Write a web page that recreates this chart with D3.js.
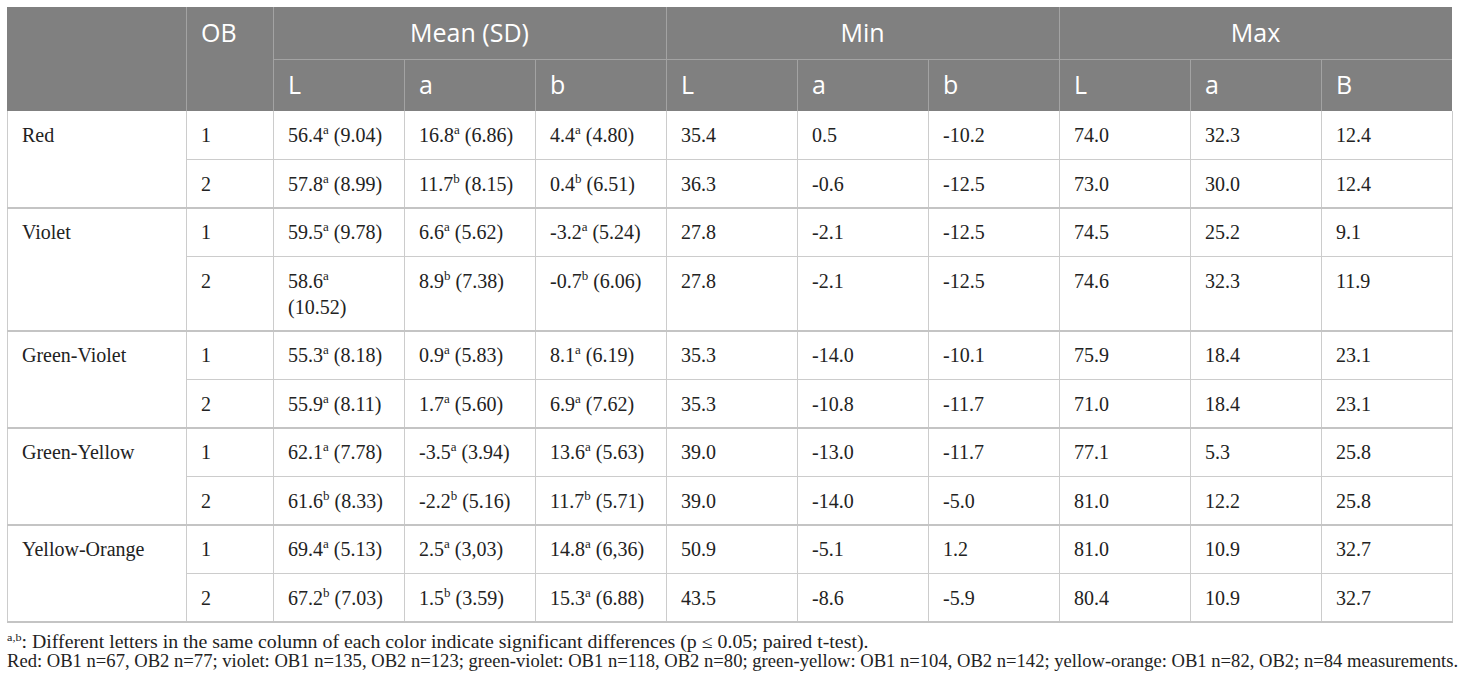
<!DOCTYPE html>
<html>
<head>
<meta charset="utf-8">
<script src="https://cdn.jsdelivr.net/npm/d3@7"></script>
<style>
  body { margin: 0; background: #fff; }
  svg { display: block; }
</style>
</head>
<body>
<svg width="1460" height="683"></svg>
<script>
// data of the table
const colorNames = ["Red", "Violet", "Green-Violet", "Green-Yellow", "Yellow-Orange"];
const obValues = ["1", "2"];
const headerGroups = ["Mean (SD)", "Min", "Max"];
const subHeaders = ["L", "a", "b", "L", "a", "b", "L", "a", "B"];

const meanL    = ["56.4", "57.8", "59.5", "58.6", "55.3", "55.9", "62.1", "61.6", "69.4", "67.2"];
const meanLSig = ["a", "a", "a", "a", "a", "a", "a", "b", "a", "b"];
const meanLSd  = ["9.04", "8.99", "9.78", "10.52", "8.18", "8.11", "7.78", "8.33", "5.13", "7.03"];

const meanA    = ["16.8", "11.7", "6.6", "8.9", "0.9", "1.7", "-3.5", "-2.2", "2.5", "1.5"];
const meanASig = ["a", "b", "a", "b", "a", "a", "a", "b", "a", "b"];
const meanASd  = ["6.86", "8.15", "5.62", "7.38", "5.83", "5.60", "3.94", "5.16", "3,03", "3.59"];

const meanB    = ["4.4", "0.4", "-3.2", "-0.7", "8.1", "6.9", "13.6", "11.7", "14.8", "15.3"];
const meanBSig = ["a", "b", "a", "b", "a", "a", "a", "b", "a", "a"];
const meanBSd  = ["4.80", "6.51", "5.24", "6.06", "6.19", "7.62", "5.63", "5.71", "6,36", "6.88"];

const minL = ["35.4", "36.3", "27.8", "27.8", "35.3", "35.3", "39.0", "39.0", "50.9", "43.5"];
const minA = ["0.5", "-0.6", "-2.1", "-2.1", "-14.0", "-10.8", "-13.0", "-14.0", "-5.1", "-8.6"];
const minB = ["-10.2", "-12.5", "-12.5", "-12.5", "-10.1", "-11.7", "-11.7", "-5.0", "1.2", "-5.9"];

const maxL = ["74.0", "73.0", "74.5", "74.6", "75.9", "71.0", "77.1", "81.0", "81.0", "80.4"];
const maxA = ["32.3", "30.0", "25.2", "32.3", "18.4", "18.4", "5.3", "12.2", "10.9", "10.9"];
const maxB = ["12.4", "12.4", "9.1", "11.9", "23.1", "23.1", "25.8", "25.8", "32.7", "32.7"];

const footSup = "a,b";
const footLine1 = ": Different letters in the same column of each color indicate significant differences (p \u2264 0.05; paired t-test).";
const footLine2 = "Red: OB1 n=67, OB2 n=77; violet: OB1 n=135, OB2 n=123; green-violet: OB1 n=118, OB2 n=80; green-yellow: OB1 n=104, OB2 n=142; yellow-orange: OB1 n=82, OB2; n=84 measurements.";

const valueCols = [
    {v: meanL, s: meanLSig, sd: meanLSd},
    {v: meanA, s: meanASig, sd: meanASd},
    {v: meanB, s: meanBSig, sd: meanBSd},
    {v: minL}, {v: minA}, {v: minB},
    {v: maxL}, {v: maxA}, {v: maxB}
];

const attr = {
    x0: 7, x1: 1452, y0: 7,
    colorW: 179, obW: 87,
    headH: 52, pad: 15,
    lineH: 26, rowBase: 22.5,
    foot1End: 869, foot2End: 1459,
    headBg: "#808080", headLine: "#a3a3a3", bodyLine: "#cccccc", groupLine: "#c4c4c4",
    serif: "'Liberation Serif', 'DejaVu Serif', serif",
    sans: "'Open Sans', 'Noto Sans', sans-serif"
};

function drawTable() {
    const svg = d3.select("svg");
    svg.selectAll('*').remove();

    const xOb = attr.x0 + attr.colorW;
    const xVal = xOb + attr.obW;
    const scX = d3.scaleBand().domain(d3.range(valueCols.length)).range([xVal, attr.x1]);
    const groupX = d3.scaleBand().domain(headerGroups).range([xVal, attr.x1]);

    const nRows = colorNames.length * obValues.length;

    // measure the mean cells to see whether they need two lines
    const probe = svg.append("g").attr("font-family", attr.serif).attr("font-size", 20);
    const wraps = [];
    for (let i = 0; i < nRows; i++) {
        wraps.push(valueCols.map((c, j) => {
            if (!c.s) return false;
            const t = writeCell(probe, 0, 0, c, i, false);
            const w = t.node().getComputedTextLength();
            return w > scX.bandwidth() - 2 * attr.pad;
        }));
    }
    probe.remove();

    const lines = wraps.map(r => r.some(d => d) ? 2 : 1);
    const rowTop = [];
    let y = attr.y0 + 2 * attr.headH;
    lines.forEach(n => { rowTop.push(y); y += attr.rowBase + attr.lineH * n; });
    const yEnd = y;

    // header block
    svg.append("rect")
        .attr("x", attr.x0).attr("y", attr.y0)
        .attr("width", attr.x1 - attr.x0).attr("height", 2 * attr.headH)
        .attr("fill", attr.headBg);

    const hl = svg.append("g").attr("stroke", attr.headLine).attr("stroke-width", 1);
    [xOb, xVal].concat(headerGroups.map(g => groupX(g))).forEach(x => {
        hl.append("line").attr("x1", x + 0.5).attr("x2", x + 0.5)
            .attr("y1", attr.y0).attr("y2", attr.y0 + 2 * attr.headH);
    });
    d3.range(valueCols.length).forEach(j => {
        if (j % 3 === 0) return;
        hl.append("line").attr("x1", scX(j) + 0.5).attr("x2", scX(j) + 0.5)
            .attr("y1", attr.y0 + attr.headH).attr("y2", attr.y0 + 2 * attr.headH);
    });
    hl.append("line").attr("x1", xVal).attr("x2", attr.x1)
        .attr("y1", attr.y0 + attr.headH + 0.5).attr("y2", attr.y0 + attr.headH + 0.5);

    const ht = svg.append("g").attr("font-family", attr.sans).attr("font-size", 25).attr("fill", "#fff");
    ht.append("text").attr("x", xOb + attr.pad).attr("y", attr.y0 + 35).text("OB");
    ht.selectAll(".grp").data(headerGroups).enter().append("text")
        .attr("x", d => groupX(d) + groupX.bandwidth() / 2)
        .attr("y", attr.y0 + 35)
        .attr("text-anchor", "middle")
        .text(d => d);
    ht.selectAll(".sub").data(subHeaders).enter().append("text")
        .attr("x", (d, j) => scX(j) + attr.pad)
        .attr("y", attr.y0 + attr.headH + 35)
        .text(d => d);

    // body lines
    const bl = svg.append("g").attr("stroke", attr.bodyLine).attr("stroke-width", 1);
    [attr.x0, xOb, xVal].concat(d3.range(1, valueCols.length).map(j => scX(j)), [attr.x1]).forEach(x => {
        bl.append("line").attr("x1", x + 0.5).attr("x2", x + 0.5)
            .attr("y1", attr.y0 + 2 * attr.headH).attr("y2", yEnd);
    });
    for (let i = 1; i < nRows; i++) {
        const group = i % obValues.length === 0;
        bl.append("line")
            .attr("x1", group ? attr.x0 : xOb).attr("x2", attr.x1 + 1)
            .attr("y1", rowTop[i]).attr("y2", rowTop[i])
            .attr("stroke", group ? attr.groupLine : attr.bodyLine)
            .attr("stroke-width", group ? 2 : 1);
    }
    bl.append("line").attr("x1", attr.x0).attr("x2", attr.x1 + 1)
        .attr("y1", yEnd).attr("y2", yEnd)
        .attr("stroke", attr.groupLine).attr("stroke-width", 2);

    // body text
    const bt = svg.append("g").attr("font-family", attr.serif).attr("font-size", 20).attr("fill", "#222");
    colorNames.forEach((name, k) => {
        bt.append("text").attr("x", attr.x0 + attr.pad)
            .attr("y", rowTop[k * obValues.length] + 31).text(name);
    });
    for (let i = 0; i < nRows; i++) {
        bt.append("text").attr("x", xOb + attr.pad).attr("y", rowTop[i] + 31)
            .text(obValues[i % obValues.length]);
        valueCols.forEach((c, j) => {
            writeCell(bt, scX(j) + attr.pad, rowTop[i] + 31, c, i, wraps[i][j]);
        });
    }

    // footnotes: narrow serif, each line squeezed to the width of the original
    const fs = 18;
    const g1 = svg.append("g").attr("font-family", attr.serif).attr("fill", "#222").attr("font-size", fs);
    const f1 = g1.append("text").attr("x", 0).attr("y", yEnd + 26).style("white-space", "pre");
    f1.append("tspan").attr("font-size", 11).attr("dy", -7).text(footSup);
    f1.append("tspan").attr("dy", 7).text(footLine1);
    const k1 = (attr.foot1End - attr.x0) / f1.node().getComputedTextLength();
    g1.attr("transform", `translate(${attr.x0},0) scale(${k1},1)`);

    const g2 = svg.append("g").attr("font-family", attr.serif).attr("fill", "#222").attr("font-size", fs);
    const f2 = g2.append("text").attr("x", 0).attr("y", yEnd + 45).text(footLine2);
    const k2 = (attr.foot2End - attr.x0) / f2.node().getComputedTextLength();
    g2.attr("transform", `translate(${attr.x0},0) scale(${k2},1)`);
}

function writeCell(g, x, y, c, i, wrap) {
    const t = g.append("text").attr("x", x).attr("y", y).style("white-space", "pre");
    t.append("tspan").text(c.v[i]);
    if (c.s) {
        t.append("tspan").attr("font-size", 13).attr("dy", -8).text(c.s[i]);
        if (wrap) {
            t.append("tspan").attr("x", x).attr("dy", 8 + attr.lineH).text(`(${c.sd[i]})`);
        } else {
            t.append("tspan").attr("dy", 8).text(` (${c.sd[i]})`);
        }
    }
    return t;
}

drawTable();
</script>
</body>
</html>
